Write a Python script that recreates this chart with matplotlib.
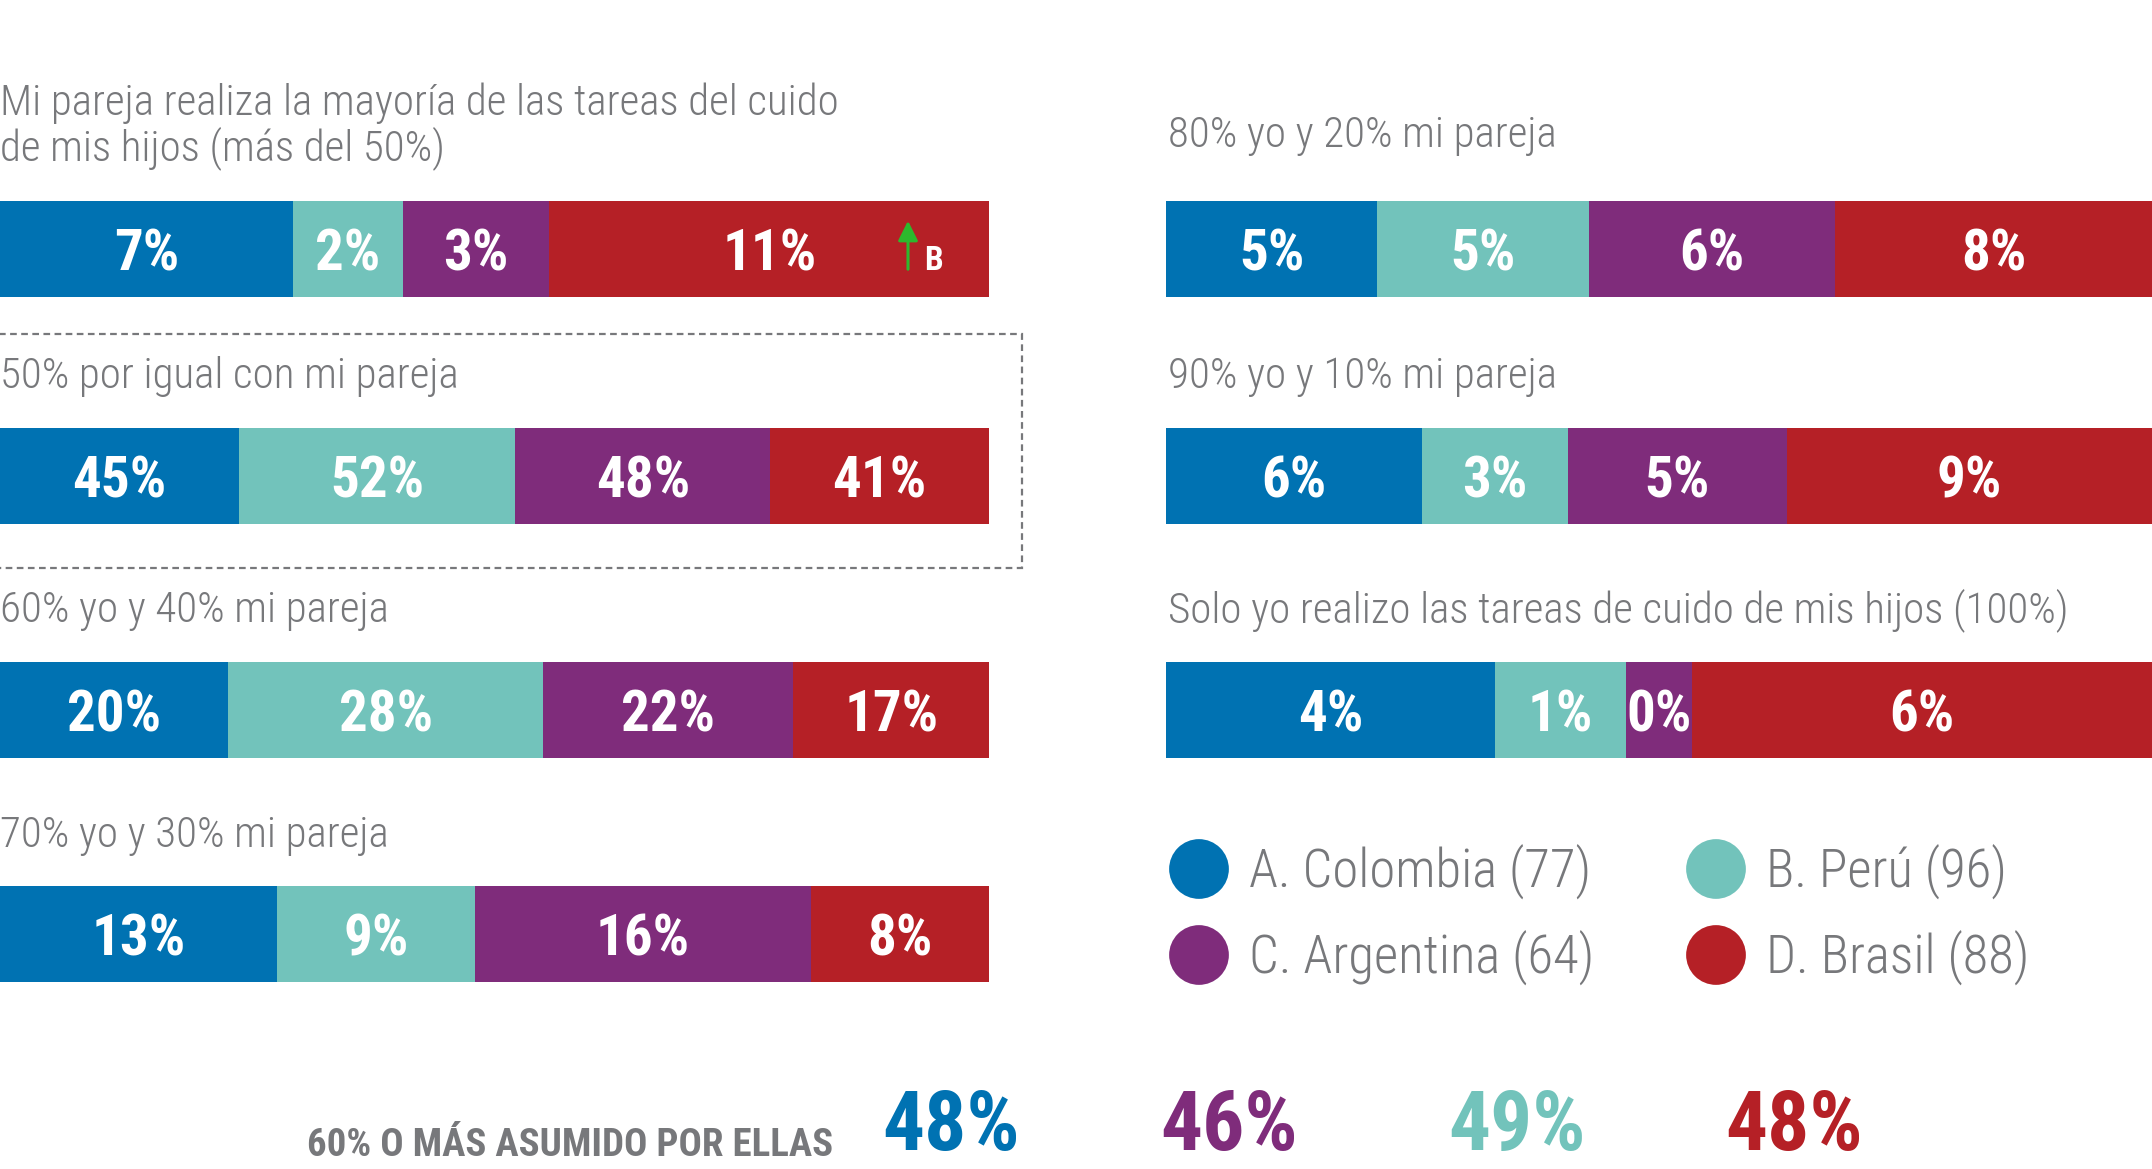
import matplotlib
matplotlib.use('Agg')
import matplotlib.pyplot as plt
from matplotlib import font_manager as fm
from matplotlib.patches import Rectangle

# Data
countries = ['A. Colombia (77)', 'B. Perú (96)', 'C. Argentina (64)', 'D. Brasil (88)']
left_titles = ['Mi pareja realiza la mayoría de las tareas del cuido\nde mis hijos (más del 50%)',
               '50% por igual con mi pareja',
               '60% yo y 40% mi pareja',
               '70% yo y 30% mi pareja']
right_titles = ['80% yo y 20% mi pareja',
                '90% yo y 10% mi pareja',
                'Solo yo realizo las tareas de cuido de mis hijos (100%)']
# one value per answer (4 left rows, then 3 right rows)
colombia = [7, 45, 20, 13, 5, 6, 4]
peru = [2, 52, 28, 9, 5, 3, 1]
argentina = [3, 48, 22, 16, 6, 5, 0]
brasil = [11, 41, 17, 8, 8, 9, 6]
summary_label = '60% O MÁS ASUMIDO POR ELLAS'
summary_values = [48, 46, 49, 48]

colors = ['#0072B2', '#72C3BB', '#7F2C7B', '#B52026']
summary_colors = ['#0072B2', '#7F2C7B', '#72C3BB', '#B52026']
gray = '#77787B'

# pick a condensed font if one is installed
names = {f.name for f in fm.fontManager.ttflist}
cond = 'DejaVu Sans'
for cand in ['Roboto Condensed', 'Liberation Sans Narrow', 'Open Sans Condensed']:
    if cand in names:
        cond = cand
        break

W, H = 2152, 1169
fig = plt.figure(figsize=(W / 100, H / 100), dpi=100)
bg = fig.add_axes([0, 0, 1, 1])
bg.set_xlim(0, W)
bg.set_ylim(H, 0)
bg.axis('off')

bar_h = 96
left_x, left_w = 0, 989
right_x, right_w = 1166, 986
left_tops = [201, 428, 662, 886]
right_tops = [201, 428, 662]
left_base = [115, 388, 622, 847]
right_base = [147, 388, 622]

rows = list(zip(colombia, peru, argentina, brasil))


def draw_bar(x0, top, width, vals):
    ax = fig.add_axes([x0 / W, 1 - (top + bar_h) / H, width / W, bar_h / H])
    # pad each segment by 1 so that a 0% segment stays visible
    widths = [v + 1 for v in vals]
    lefts = [sum(widths[:i]) for i in range(len(widths))]
    ax.barh(0, widths, left=lefts, height=1, color=colors)
    ax.set_xlim(0, sum(widths))
    ax.set_ylim(-0.5, 0.5)
    ax.axis('off')
    for l, w, v in zip(lefts, widths, vals):
        ax.text(l + w / 2, -0.22, f'{v}%', ha='center', va='baseline', color='white',
                fontsize=41, fontweight='bold', family=cond)
    return ax


title_kw = dict(color=gray, fontsize=31, fontweight='light', family=cond,
                va='baseline', ha='left')

for i, title in enumerate(left_titles):
    lines = title.split('\n')
    for j, line in enumerate(lines):
        bg.text(left_x, left_base[i] + 45 * j, line, **title_kw)
    draw_bar(left_x, left_tops[i], left_w, rows[i])

for i, title in enumerate(right_titles):
    bg.text(right_x + 2, right_base[i], title, **title_kw)
    draw_bar(right_x, right_tops[i], right_w, rows[4 + i])

# overlay for marks drawn on top of the bars
top = fig.add_axes([0, 0, 1, 1])
top.set_xlim(0, W)
top.set_ylim(H, 0)
top.axis('off')
top.patch.set_alpha(0)

# dashed frame around the "50% por igual" row
top.add_patch(Rectangle((-5, 334), 1027, 234, fill=False, edgecolor=gray,
                        linestyle=(0, (3, 2)), linewidth=1.6))

# significance arrow for Brasil in the first row
top.annotate('', xy=(908, 218), xytext=(908, 272),
             arrowprops=dict(arrowstyle='-|>', color='#2DB82D', lw=2.2, mutation_scale=30))
top.text(924, 270, 'B', color='white', fontsize=24, fontweight='bold', family=cond,
         ha='left', va='baseline')

# legend
leg_pos = [(1199, 869), (1716, 869), (1199, 955), (1716, 955)]
for (lx, ly), name, c in zip(leg_pos, countries, colors):
    top.scatter([lx], [ly], s=1850, color=c, edgecolor='none')
    top.text(lx + 50, ly + 19, name, color=gray, fontsize=38, fontweight='light',
             family=cond, ha='left', va='baseline')

# summary line at the bottom
top.text(833, 1156, summary_label, color=gray, fontsize=28, fontweight='bold',
         family=cond, ha='right', va='baseline')
for x, v, c in zip([882, 1160, 1448, 1725], summary_values, summary_colors):
    top.text(x, 1150, f'{v}%', color=c, fontsize=60, fontweight='bold', family=cond,
             ha='left', va='baseline')

fig.savefig('out.png', dpi=100)
